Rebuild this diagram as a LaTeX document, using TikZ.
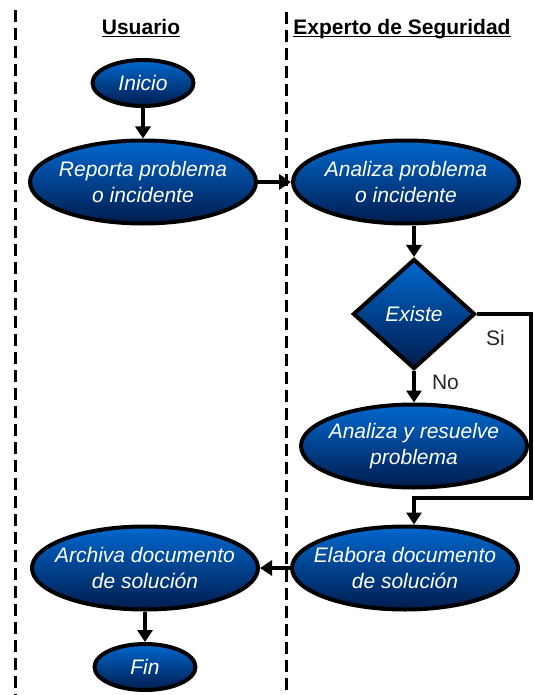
\documentclass[tikz,border=0pt]{standalone}
\usepackage{fontspec}
\setmainfont{Liberation Sans}
\usetikzlibrary{positioning}
\usetikzlibrary{shapes.geometric}
\usetikzlibrary{arrows.meta}

\definecolor{nodetop}{RGB}{0,104,206}
\definecolor{nodemid}{RGB}{0,82,172}
\definecolor{nodebottom}{RGB}{0,28,78}

\begin{document}
\begin{tikzpicture}
    [
    x=1pt, y=-1pt,
    node distance=100pt and 100pt,
    on grid,
    every node/.style={font=\fontsize{21}{26}\selectfont},
    every actividad/.style={ellipse, draw=black, line width=4pt, top color=nodetop, middle color=nodemid, bottom color=nodebottom, text=white, align=center},
    actividad/.style={every actividad, minimum width=226pt, minimum height=83pt, inner xsep=-45pt, inner ysep=0pt, font=\fontsize{21}{26}\selectfont\itshape},
    terminal/.style={every actividad, minimum width=101pt, minimum height=46pt, inner sep=0pt, font=\fontsize{21}{26}\selectfont\itshape},
    decision/.style={diamond, draw=black, line width=4pt, top color=nodetop, middle color=nodemid, bottom color=nodebottom, text=white, minimum width=122pt, minimum height=110pt, inner sep=0pt, font=\fontsize{21}{26}\selectfont\itshape},
    heading/.style={anchor=base, inner sep=0pt, font=\fontsize{21}{26}\selectfont\bfseries},
    flowlabel/.style={inner sep=0pt, text=black!85},
    flow/.style={line width=4pt, -{Triangle[width=15pt,length=12pt]}},
    lane/.style={line width=3pt, dash pattern=on 12pt off 6pt},
    ]
    \useasboundingbox (0,0) rectangle (534,695);

    % carriles
    \draw[lane] (15,10) -- (15,695);
    \draw[lane] (286,12) -- (286,695);
    \node[heading] (head_usuario) at (141,35) {\underline{\smash{Usuario}}};
    \node[heading] (head_experto) at (402,35) {\underline{\smash{Experto de Seguridad}}};

    % actividades
    \node[terminal] (act_inicio) at (143,83) {Inicio};
    \node[actividad, below = 99pt of act_inicio] (act_reporta) {Reporta problema\\o incidente};
    \node[actividad, right = 263pt of act_reporta] (act_analiza) {Analiza problema\\o incidente};
    \node[decision] (dec_existe) at (414,314) {Existe};
    \node[actividad, below = 132pt of dec_existe] (act_resuelve) {Analiza y resuelve\\problema};
    \node[actividad, below = 122pt of act_resuelve, xshift=-9pt] (act_elabora) {Elabora documento\\de soluci\'on};
    \node[actividad, left = 260pt of act_elabora] (act_archiva) {Archiva documento\\de soluci\'on};
    \node[terminal, below = 99pt of act_archiva] (act_fin) {Fin};
    \coordinate (si_esquina) at (531,498);

    % flujo
    \draw[flow] (act_inicio) -- (act_reporta);
    \draw[flow] (act_reporta) -- (act_analiza);
    \draw[flow] (act_analiza.south -| dec_existe.north) -- (dec_existe);
    \draw[flow] (dec_existe) -- node[flowlabel, pos=0.35, anchor=west, xshift=16pt] (lbl_no) {No} (act_resuelve);
    \draw[flow] (dec_existe.east) -| node[flowlabel, pos=0.17, anchor=north, yshift=-14pt] (lbl_si) {Si} (si_esquina) -| (dec_existe.north |- act_elabora.north);
    \draw[flow] (act_elabora) -- (act_archiva);
    \draw[flow] (act_archiva) -- (act_fin);
\end{tikzpicture}
\end{document}
